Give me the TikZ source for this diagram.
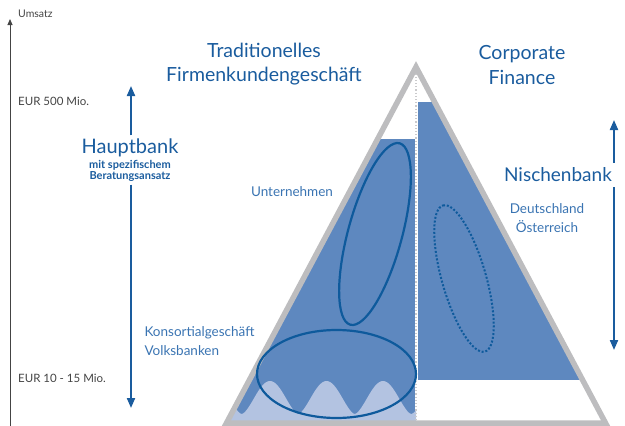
\documentclass[tikz,border=0pt]{standalone}
\usepackage{fontspec}
\setmainfont{Lato}
\usetikzlibrary{arrows.meta}

\definecolor{titleblue}{HTML}{1A5C9E}
\definecolor{labelblue}{HTML}{3A74B2}
\definecolor{midblue}{HTML}{5E88BF}
\definecolor{paleblue}{HTML}{B3C3E1}
\definecolor{ringblue}{HTML}{0E5A9C}
\definecolor{trigray}{HTML}{BDBDBF}
\definecolor{axisgray}{HTML}{444444}

\begin{document}
\begin{tikzpicture}[x=1pt, y=-1pt,
    title/.style = {text=titleblue, font=\fontsize{19.5}{24.5}\selectfont, align=center},
    label/.style = {text=labelblue, font=\fontsize{13.5}{18.5}\selectfont},
    axistext/.style = {text=axisgray, font=\fontsize{11.5}{12}\selectfont, anchor=west, inner sep=0pt},
    bluearrow/.style = {draw=titleblue, line width=2pt, -{Triangle[length=10pt,width=8pt]}},
    ring/.style = {draw=ringblue, line width=2.2pt}]
    \useasboundingbox (0,0) rectangle (625,426);

    % triangle corners
    \coordinate (apex) at (416,67);
    \coordinate (left) at (226.5,423);
    \coordinate (right) at (605.5,423);

    % fills
    \begin{scope}
        \clip (apex) -- (left) -- (right) -- cycle;
        \fill[midblue] (200,139) rectangle (414.5,430);
        \fill[midblue] (417.5,102) rectangle (630,380);
        \fill[paleblue] plot[domain=200:416, samples=150] (\x,{414-33*(0.5+0.5*cos(6.37*(\x-270)))^0.8}) -- (416,430) -- (200,430) -- cycle;
    \end{scope}
    \draw[trigray!80, line width=1.2pt, dotted] (apex) -- (apex |- left);
    \draw[trigray, line width=5.5pt, line join=miter] (apex) -- (left) -- (right) -- cycle;

    % ellipses
    \draw[ring, rotate around={74.8:(375,234)}] (375,234) ellipse [x radius=94, y radius=27];
    \draw[ring] (336.5,374) ellipse [x radius=79.5, y radius=44];
    \draw[ringblue, line width=2pt, dash pattern=on 2pt off 1.8pt, rotate around={106:(464,278.5)}] (464,278.5) ellipse [x radius=76, y radius=22];

    % axis
    \coordinate (axisbot) at (10,426);
    \coordinate (axistop) at (10,19);
    \draw[axisgray, line width=0.9pt, -{Triangle[length=6pt,width=5pt]}] (axisbot) -- (axistop);
    \node[axistext, font=\fontsize{10.5}{12}\selectfont] (umsatz) at (18,14) {Umsatz};
    \node[axistext] (eur500) at (18,101) {EUR 500 Mio.};
    \node[axistext] (eur10) at (18,378) {EUR 10 - 15 Mio.};

    % titles
    \node[title] (trad) at (264,64) {Traditionelles\\Firmenkundengeschäft};
    \node[title] (corp) at (522,65) {Corporate\\Finance};

    % Hauptbank
    \node[text=titleblue, align=center, inner sep=3pt] (haupt) at (130,160)
        {{\fontsize{20}{22}\selectfont Hauptbank}\\[3pt]
         {\fontsize{11}{14}\selectfont\bfseries mit spezifischem}\\[-1pt]
         {\fontsize{11}{14}\selectfont\bfseries Beratungsansatz}};
    \coordinate (hbtop) at (131,86);
    \coordinate (hbbot) at (131,408);
    \draw[bluearrow] (haupt.north -| hbtop) -- (hbtop);
    \draw[bluearrow] (haupt.south -| hbbot) -- (hbbot);

    % Nischenbank
    \node[title, font=\fontsize{19}{22}\selectfont, inner sep=5pt] (nische) at (558,175) {Nischenbank};
    \coordinate (nbtop) at (614,120);
    \coordinate (nbbot) at (614,350);
    \draw[bluearrow] (nbtop |- nische.north) -- (nbtop);
    \draw[bluearrow] (nbbot |- nische.south) -- (nbbot);

    % labels
    \node[label] (unter) at (292,192) {Unternehmen};
    \node[label, align=left, anchor=west] (konsort) at (141,341) {Konsortialgeschäft\\Volksbanken};
    \node[label, align=center] (land) at (547,218) {Deutschland\\Österreich};
\end{tikzpicture}
\end{document}
